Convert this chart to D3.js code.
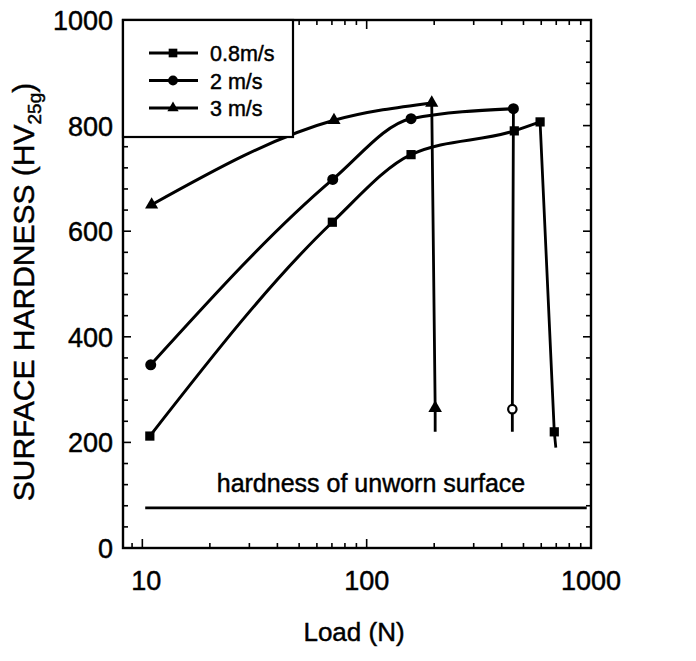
<!DOCTYPE html>
<html>
<head>
<meta charset="utf-8">
<script src="https://cdn.jsdelivr.net/npm/d3@7/dist/d3.min.js"></script>
<style>
  html, body { margin: 0; padding: 0; background: #fff; }
  svg { display: block; }
  text { font-family: "Liberation Sans", Arial, Helvetica, sans-serif; fill: #000; stroke: #000; stroke-width: 0.45px; }
</style>
</head>
<body>
<svg id="chart" width="696" height="661"></svg>
<script>
// Surface hardness versus load for three sliding speeds.
// Each series: rising points, a final drop point and the lower end of its drop tail.
const series = ["0.8m/s", "2 m/s", "3 m/s"];

const loadSlow = [10.8, 70.3, 157.7, 455, 593];
const hardSlow = [212, 617, 745, 790, 807];
const dropSlow = { load: 686, hard: 220, tailLoad: 697, tailHard: 190 };

const loadMid = [10.9, 70.6, 157.7, 451];
const hardMid = [347, 698, 813, 832];
const dropMid = { load: 446, hard: 263, tailLoad: 446, tailHard: 220 };

const loadFast = [11.0, 71.5, 195];
const hardFast = [650, 810, 843];
const dropFast = { load: 202, hard: 265, tailLoad: 202, tailHard: 220 };

// Reference level of the unworn material
const unwornLoad = [10.3, 957];
const unwornHard = 76;
const unwornLabel = "hardness of unworn surface";

const xTickLabels = [10, 100, 1000];
const yTickLabels = [0, 200, 400, 600, 800, 1000];

const svg = d3.select("#chart");
const plotL = 123, plotR = 591, plotT = 20, plotB = 548;

const x = d3.scaleLog().domain([8.2, 1000]).range([plotL, plotR]);
const y = d3.scaleLinear().domain([0, 1000]).range([plotB, plotT]);

// Frame
svg.append("rect")
  .attr("x", plotL).attr("y", plotT)
  .attr("width", plotR - plotL).attr("height", plotB - plotT)
  .attr("fill", "none").attr("stroke", "#000").attr("stroke-width", 2.4);

// Log ticks on bottom and top edges
const xMinor = [];
[1, 10, 100].forEach(d => { for (let k = 2; k <= 9; k++) xMinor.push(d * k); });
const xMinorIn = xMinor.filter(v => v >= 8.2 && v <= 1000 && !xTickLabels.includes(v));
const tickG = svg.append("g").attr("stroke", "#000").attr("stroke-width", 1.6);
xMinorIn.forEach(v => {
  tickG.append("line").attr("x1", x(v)).attr("x2", x(v)).attr("y1", plotB).attr("y2", plotB - 5);
  tickG.append("line").attr("x1", x(v)).attr("x2", x(v)).attr("y1", plotT).attr("y2", plotT + 5);
});
xTickLabels.forEach(v => {
  tickG.append("line").attr("x1", x(v)).attr("x2", x(v)).attr("y1", plotB).attr("y2", plotB - 9);
  tickG.append("line").attr("x1", x(v)).attr("x2", x(v)).attr("y1", plotT).attr("y2", plotT + 9);
});

// Linear ticks on left and right edges
d3.range(0, 1001, 40).forEach(v => {
  const len = v % 200 === 0 ? 8 : 5;
  tickG.append("line").attr("x1", plotL).attr("x2", plotL + len).attr("y1", y(v)).attr("y2", y(v));
  tickG.append("line").attr("x1", plotR).attr("x2", plotR - len).attr("y1", y(v)).attr("y2", y(v));
});

// Tick labels
svg.append("g").selectAll("text").data(xTickLabels).join("text")
  .attr("x", d => x(d) + (d === 10 ? 4 : 0))
  .attr("y", 590)
  .attr("text-anchor", "middle")
  .attr("font-size", 27)
  .text(d => d);

svg.append("g").selectAll("text").data(yTickLabels).join("text")
  .attr("x", 113)
  .attr("y", d => y(d) + 10)
  .attr("text-anchor", "end")
  .attr("font-size", 27)
  .text(d => d);

// Axis titles
svg.append("text")
  .attr("x", 354).attr("y", 641)
  .attr("text-anchor", "middle")
  .attr("font-size", 26)
  .text("Load (N)");

const yTitle = svg.append("text")
  .attr("transform", "translate(34,292) rotate(-90)")
  .attr("text-anchor", "middle")
  .attr("font-size", 30);
yTitle.append("tspan").text("SURFACE HARDNESS (HV");
yTitle.append("tspan").attr("font-size", 19).attr("dy", 7).text("25g");
yTitle.append("tspan").attr("dy", -7).text(")");

// Unworn surface reference line and label
svg.append("line")
  .attr("x1", x(unwornLoad[0])).attr("x2", x(unwornLoad[1]))
  .attr("y1", y(unwornHard)).attr("y2", y(unwornHard))
  .attr("stroke", "#000").attr("stroke-width", 2.6);
svg.append("text")
  .attr("x", 371).attr("y", 492)
  .attr("text-anchor", "middle")
  .attr("font-size", 25)
  .text(unwornLabel);

// Markers
const symSquare = d3.symbol().type(d3.symbolSquare).size(85);
const symCircle = d3.symbol().type(d3.symbolCircle).size(95);
const symTri = d3.symbol().type(d3.symbolTriangle).size(75);

const lineGen = d3.line().x(d => x(d[0])).y(d => y(d[1])).curve(d3.curveMonotoneX);
const straight = d3.line().x(d => x(d[0])).y(d => y(d[1]));

function drawSeries(loads, hards, drop, sym, dropMarker) {
  const pts = loads.map((l, i) => [l, hards[i]]);
  const last = pts[pts.length - 1];
  svg.append("path").attr("d", lineGen(pts))
    .attr("fill", "none").attr("stroke", "#000").attr("stroke-width", 3);
  svg.append("path")
    .attr("d", straight([last, [drop.load, drop.hard], [drop.tailLoad, drop.tailHard]]))
    .attr("fill", "none").attr("stroke", "#000").attr("stroke-width", 2.8);
  svg.append("g").selectAll("path").data(pts).join("path")
    .attr("d", sym)
    .attr("transform", d => `translate(${x(d[0])},${y(d[1])})`)
    .attr("fill", "#000");
  dropMarker(svg.append("g").attr("transform", `translate(${x(drop.load)},${y(drop.hard)})`));
}

drawSeries(loadSlow, hardSlow, dropSlow, symSquare,
  g => g.append("path").attr("d", symSquare).attr("fill", "#000"));
drawSeries(loadMid, hardMid, dropMid, symCircle,
  g => g.append("circle").attr("r", 4.2).attr("fill", "#fff").attr("stroke", "#000").attr("stroke-width", 2.2));
drawSeries(loadFast, hardFast, dropFast, symTri,
  g => g.append("path").attr("d", d3.symbol().type(d3.symbolTriangle).size(80)).attr("fill", "#000"));

// Legend box in the top-left corner
const legend = svg.append("g");
legend.append("rect")
  .attr("x", plotL).attr("y", plotT)
  .attr("width", 293 - plotL).attr("height", 137 - plotT)
  .attr("fill", "#fff").attr("stroke", "#000").attr("stroke-width", 2.2);
series.forEach((name, i) => {
  const ly = 53 + i * 27.5;
  legend.append("line").attr("x1", 149).attr("x2", 198).attr("y1", ly).attr("y2", ly)
    .attr("stroke", "#000").attr("stroke-width", 2.8);
  legend.append("path").attr("d", d3.symbol().type([d3.symbolSquare, d3.symbolCircle, d3.symbolTriangle][i]).size(i === 2 ? 55 : 75))
    .attr("transform", `translate(173,${ly})`).attr("fill", "#000");
  legend.append("text").attr("x", 210).attr("y", ly + 8)
    .attr("font-size", 21.5).text(name);
});
</script>
</body>
</html>
